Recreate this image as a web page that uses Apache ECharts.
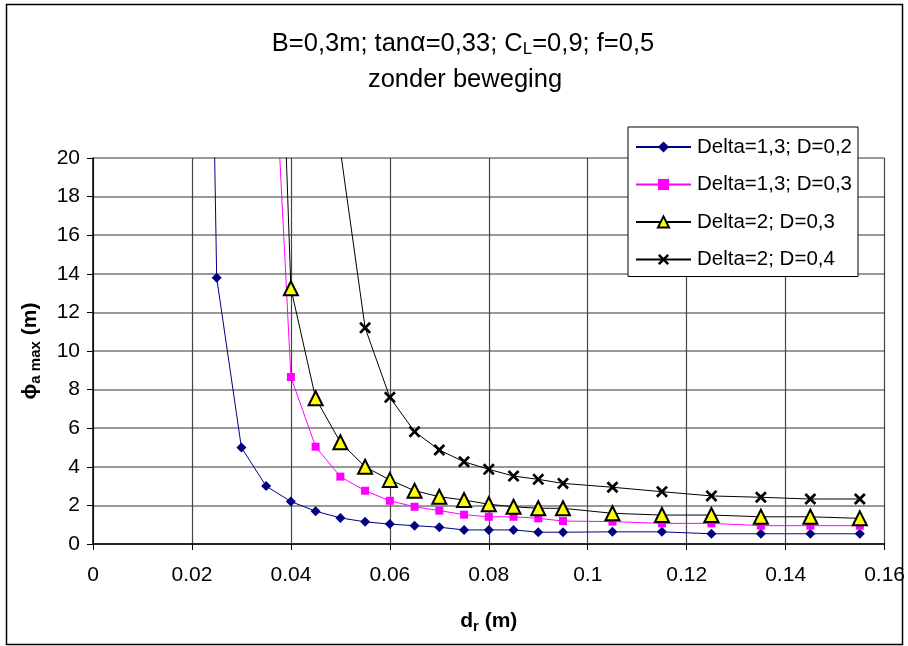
<!DOCTYPE html>
<html>
<head>
<meta charset="utf-8">
<script src="https://cdn.jsdelivr.net/npm/echarts@6/dist/echarts.min.js"></script>
<style>
html,body{margin:0;padding:0;background:#fff;}
#chart{width:908px;height:646px;}
</style>
</head>
<body>
<div id="chart"></div>
<script>
// d_r values (m)
const dr = [0.02, 0.025, 0.03, 0.035, 0.04, 0.045, 0.05, 0.055, 0.06, 0.065, 0.07, 0.075, 0.08, 0.085, 0.09, 0.095, 0.105, 0.115, 0.125, 0.135, 0.145, 0.155];
// phi a max (m)
const delta13_D02 = [90, 13.8, 5.0, 3.0, 2.2, 1.7, 1.35, 1.15, 1.03, 0.95, 0.87, 0.73, 0.73, 0.73, 0.61, 0.61, 0.63, 0.63, 0.53, 0.53, 0.53, 0.53];
const delta13_D03 = [null, null, null, 34, 8.65, 5.04, 3.49, 2.76, 2.24, 1.93, 1.73, 1.52, 1.41, 1.41, 1.33, 1.19, 1.16, 1.07, 1.07, 0.95, 0.95, 0.95];
const delta2_D03 = [null, null, null, 50, 13.25, 7.55, 5.27, 4.0, 3.32, 2.76, 2.45, 2.28, 2.06, 1.93, 1.85, 1.85, 1.59, 1.5, 1.5, 1.41, 1.41, 1.33];
const delta2_D04 = [null, null, null, null, null, null, 20.4, 11.2, 7.6, 5.82, 4.87, 4.26, 3.87, 3.52, 3.35, 3.14, 2.94, 2.71, 2.49, 2.42, 2.33, 2.33];
const seriesNames = ['Delta=1,3; D=0,2', 'Delta=1,3; D=0,3', 'Delta=2; D=0,3', 'Delta=2; D=0,4'];
const titleLine1 = 'B=0,3m; tan{g|α}=0,33; C{s|L}=0,9; f=0,5';
const titleLine2 = 'zonder beweging';

const FONT = "'Liberation Sans', Arial, sans-serif";
function pairs(arr) {
  return dr.map((x, i) => [x, arr[i]]).filter(p => p[1] !== null);
}
const crossPath = 'path://M0,1.6L1.6,0L5,3.4L8.4,0L10,1.6L6.6,5L10,8.4L8.4,10L5,6.6L1.6,10L0,8.4L3.4,5Z';

const chart = echarts.init(document.getElementById('chart'), null, {renderer: 'canvas'});
chart.setOption({
  backgroundColor: '#fff',
  animation: false,
  textStyle: {fontFamily: FONT},
  graphic: [
    {type: 'rect', shape: {x: 6.5, y: 4.5, width: 896, height: 640}, style: {fill: 'none', stroke: '#000', lineWidth: 1.5}, z: 0, silent: true},
    {type: 'text', x: 463, y: 44, style: {text: titleLine1, align: 'center', verticalAlign: 'middle', fontSize: 25.5, fontFamily: FONT, fill: '#000',
      rich: {g: {fontSize: 27, fontFamily: FONT}, s: {fontSize: 17, fontFamily: FONT, padding: [10, 0, 0, 0]}}}},
    {type: 'text', x: 465, y: 80, style: {text: titleLine2, align: 'center', verticalAlign: 'middle', fontSize: 25.5, fontFamily: FONT, fill: '#000'}}
  ],
  legend: {
    orient: 'vertical',
    left: 628, top: 127,
    padding: [9, 6, 6, 7],
    backgroundColor: '#fff',
    borderColor: '#000', borderWidth: 1,
    itemWidth: 55, itemHeight: 14, itemGap: 15.5,
    textStyle: {fontSize: 20.5, fontFamily: FONT, color: '#000', lineHeight: 22, padding: [0, 0, 0, 1]},
    data: seriesNames
  },
  grid: {left: 93, right: 20, top: 158, bottom: 102, containLabel: false},
  xAxis: {
    type: 'value', min: 0, max: 0.16, interval: 0.02,
    name: 'd{s|r} (m)', nameLocation: 'middle', nameGap: 65,
    nameTextStyle: {fontSize: 21, fontWeight: 'bold', color: '#000', fontFamily: FONT,
      rich: {s: {fontSize: 15, fontWeight: 'bold', padding: [10, 0, 0, 0], fontFamily: FONT}}},
    axisLine: {show: true, lineStyle: {color: '#000', width: 1.5}},
    axisTick: {show: true, inside: false, length: 6, lineStyle: {color: '#000'}},
    axisLabel: {fontSize: 21, color: '#000', margin: 21, fontFamily: FONT, formatter: v => String(+v.toFixed(2))},
    splitLine: {show: true, lineStyle: {color: '#444', width: 1.2}}
  },
  yAxis: {
    type: 'value', min: 0, max: 20, interval: 2,
    name: '{p|ϕ}{s|a max} (m)', nameLocation: 'middle', nameGap: 50, nameRotate: 90,
    nameTextStyle: {fontSize: 21, fontWeight: 'bold', color: '#000', fontFamily: FONT,
      rich: {p: {fontSize: 21, fontWeight: 'bold', fontFamily: FONT}, s: {fontSize: 15, fontWeight: 'bold', padding: [10, 0, 0, 0], fontFamily: FONT}}},
    axisLine: {show: true, lineStyle: {color: '#000', width: 1.5}},
    axisTick: {show: true, inside: false, length: 6, lineStyle: {color: '#000'}},
    axisLabel: {fontSize: 21, color: '#000', margin: 13, fontFamily: FONT},
    splitLine: {show: true, lineStyle: {color: '#777', width: 1.5}}
  },
  series: [
    {name: seriesNames[0], type: 'line', data: pairs(delta13_D02), clip: true,
      symbol: 'diamond', symbolSize: 10,
      lineStyle: {color: '#000080', width: 1}, itemStyle: {color: '#000080'}},
    {name: seriesNames[1], type: 'line', data: pairs(delta13_D03), clip: true,
      symbol: 'rect', symbolSize: 8,
      lineStyle: {color: '#ff00ff', width: 1}, itemStyle: {color: '#ff00ff'}},
    {name: seriesNames[2], type: 'line', data: pairs(delta2_D03), clip: true,
      symbol: 'triangle', symbolSize: 14,
      lineStyle: {color: '#000', width: 1}, itemStyle: {color: '#ffff00', borderColor: '#000', borderWidth: 2}},
    {name: seriesNames[3], type: 'line', data: pairs(delta2_D04), clip: true,
      symbol: crossPath, symbolSize: 12,
      lineStyle: {color: '#000', width: 1}, itemStyle: {color: '#000'}, z: 3}
  ]
});
</script>
</body>
</html>
